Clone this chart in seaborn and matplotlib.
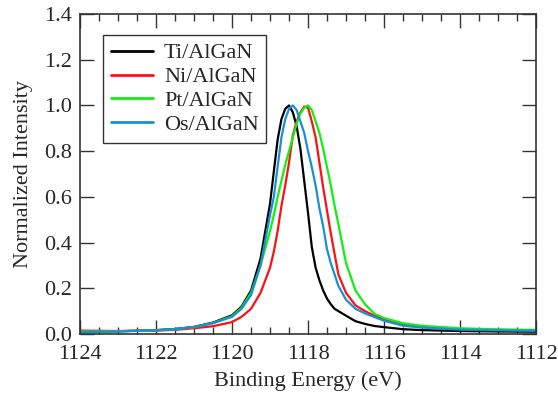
import numpy as np
import pandas as pd
import matplotlib
matplotlib.use("Agg")
import matplotlib.pyplot as plt
from matplotlib.ticker import MultipleLocator
import seaborn as sns

# binding energy grid (eV)
energy = [1124.0, 1123.0, 1122.0, 1121.5, 1121.0, 1120.5, 1120.0, 1119.75, 1119.5,
          1119.25, 1119.0, 1118.9, 1118.8, 1118.7, 1118.6, 1118.5, 1118.4, 1118.3,
          1118.2, 1118.1, 1118.0, 1117.9, 1117.8, 1117.7, 1117.6, 1117.5, 1117.4,
          1117.3, 1117.2, 1117.0, 1116.75, 1116.5, 1116.25, 1116.0, 1115.5, 1115.0,
          1114.0, 1113.0, 1112.0]

ti = [0.010, 0.012, 0.017, 0.022, 0.031, 0.050, 0.082, 0.120, 0.190,
      0.330, 0.570, 0.710, 0.850, 0.940, 0.985, 1.000, 0.970, 0.910,
      0.810, 0.670, 0.530, 0.380, 0.290, 0.235, 0.190, 0.155, 0.130,
      0.110, 0.100, 0.080, 0.056, 0.044, 0.035, 0.030, 0.021, 0.017,
      0.013, 0.011, 0.010]

ni = [0.015, 0.013, 0.015, 0.018, 0.025, 0.034, 0.052, 0.075, 0.110,
      0.180, 0.290, 0.360, 0.450, 0.560, 0.650, 0.750, 0.870, 0.930,
      0.970, 0.995, 0.990, 0.930, 0.860, 0.750, 0.640, 0.540, 0.440,
      0.350, 0.260, 0.180, 0.125, 0.100, 0.080, 0.064, 0.042, 0.032,
      0.022, 0.018, 0.016]

pt = [0.012, 0.012, 0.016, 0.021, 0.030, 0.048, 0.078, 0.115, 0.180,
      0.300, 0.450, 0.520, 0.600, 0.670, 0.740, 0.800, 0.860, 0.920,
      0.965, 0.990, 1.000, 0.980, 0.930, 0.880, 0.810, 0.730, 0.650,
      0.560, 0.480, 0.310, 0.190, 0.130, 0.088, 0.070, 0.047, 0.036,
      0.025, 0.020, 0.018]

os_ = [0.010, 0.011, 0.016, 0.021, 0.030, 0.047, 0.075, 0.110, 0.170,
       0.300, 0.520, 0.600, 0.730, 0.860, 0.940, 0.985, 1.000, 0.980,
       0.930, 0.880, 0.800, 0.730, 0.650, 0.550, 0.470, 0.370, 0.310,
       0.260, 0.210, 0.150, 0.110, 0.090, 0.074, 0.058, 0.036, 0.028,
       0.019, 0.016, 0.014]

labels = ["Ti/AlGaN", "Ni/AlGaN", "Pt/AlGaN", "Os/AlGaN"]
colors = ["#000000", "#ff1010", "#10f010", "#1a8fd6"]

df = pd.concat([
    pd.DataFrame({"energy": energy, "intensity": vals, "sample": lab})
    for vals, lab in zip([ti, ni, pt, os_], labels)
])

sns.set_style("ticks")
plt.rcParams['font.family'] = ['Liberation Serif', 'DejaVu Serif']

fig = plt.figure(figsize=(5.58, 3.97), dpi=100)
ax = fig.add_axes([0.1434, 0.1587, 0.8172, 0.806])

sns.lineplot(data=df, x="energy", y="intensity", hue="sample", hue_order=labels,
             palette=colors, linewidth=1.6, sort=False, estimator=None, ax=ax)

ax.set_xlim(1124, 1112)
ax.set_ylim(0, 1.4)
ax.xaxis.set_major_locator(MultipleLocator(2))
ax.xaxis.set_minor_locator(MultipleLocator(0.5))
ax.yaxis.set_major_locator(MultipleLocator(0.2))
ax.yaxis.set_major_formatter(matplotlib.ticker.FormatStrFormatter("%.1f"))
ax.tick_params(which="both", direction="in", top=True, right=True,
               labelsize=16, color="#333333", width=1.0)
ax.tick_params(which="major", length=10, pad=8)
ax.tick_params(axis="y", which="major", pad=6)
ax.tick_params(which="minor", length=5)
for s in ax.spines.values():
    s.set_color("#333333")
    s.set_linewidth(1.2)

ax.set_xlabel("Binding Energy (eV)", fontsize=16, labelpad=5)
ax.set_ylabel("Normalized Intensity", fontsize=16, labelpad=8)

leg = ax.legend(loc="upper left", bbox_to_anchor=(0.05, 0.934), borderaxespad=0,
                fontsize=16, handlelength=1.9, handletextpad=0.5, labelspacing=0.15,
                fancybox=False, framealpha=1, edgecolor="#333333", borderpad=0.35)
leg.get_frame().set_linewidth(1.0)
for line in leg.get_lines():
    line.set_linewidth(2.0)

fig.savefig("out.png", dpi=100)
